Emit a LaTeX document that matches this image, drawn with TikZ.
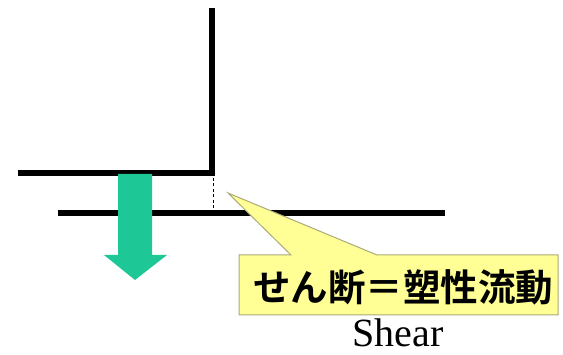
\documentclass[tikz,border=0pt]{standalone}
\usepackage{fontspec}
\setmainfont{Liberation Serif}
\newfontfamily\cjk{Noto Sans CJK JP Bold}
\definecolor{arrgreen}{RGB}{30,200,150}
\definecolor{callfill}{RGB}{255,255,150}
\definecolor{callline}{RGB}{170,170,120}
\tikzset{
  plate/.style={line width=6pt, black},
  gap/.style={line width=1pt, dash pattern=on 3pt off 2.5pt},
  callout/.style={fill=callfill, draw=callline, line width=1pt, line join=miter},
}
\begin{document}
\begin{tikzpicture}[x=1pt,y=-1pt]
\useasboundingbox (0,0) rectangle (563,355);
% plates
\coordinate (vtop) at (212,8);
\coordinate (corner) at (212,173);
\coordinate (uleft) at (18,173);
\coordinate (lleft) at (58,213);
\coordinate (lright) at (445,213);
\draw[plate, line cap=butt] (vtop) -- (corner) -- (uleft);
\draw[plate] (lleft) -- (lright);
\coordinate (dtop) at (213,178);
\coordinate (dbot) at (213,209);
\draw[gap] (dtop) -- (dbot);
% green arrow
\fill[arrgreen] (118,174) -- (152,174) -- (152,255) -- (167,255) -- (135,280) -- (104,255) -- (118,255) -- cycle;
% callout
\coordinate (tip) at (228,193);
\draw[callout] (239,255) -- (291,255) -- (tip) -- (377,255) -- (558,255) -- (558,315) -- (239,315) -- cycle;
\node[font=\cjk\fontsize{37.5}{40}\selectfont, inner sep=0pt] (jp) at (403,287) {せん断＝塑性流動};
\node[font=\fontsize{40}{44}\selectfont, inner sep=0pt] (en) at (398,333) {Shear};
\end{tikzpicture}
\end{document}
